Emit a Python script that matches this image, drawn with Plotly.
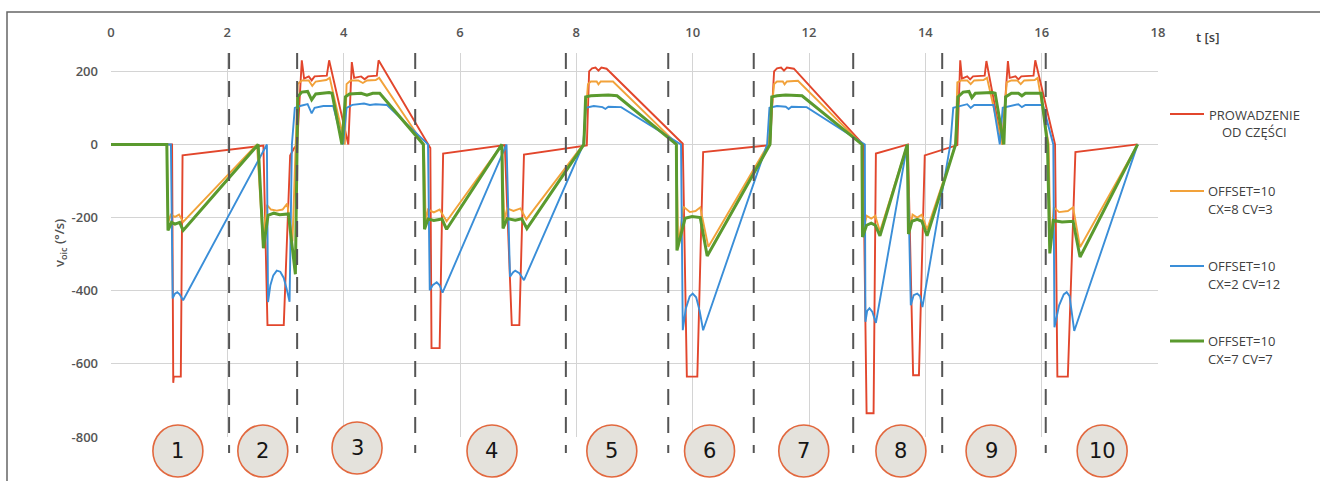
import plotly.graph_objects as go

# ---------------- data (time in s, angular velocity in deg/s) ----------------
red_t = [0, 1.05, 1.07, 1.08, 1.20, 1.23, 2.62,
         2.69, 2.97, 3.08, 3.15, 3.20,
         3.28, 3.32, 3.40, 3.45, 3.50, 3.71, 3.75, 4.08, 4.14, 4.18, 4.30, 4.36, 4.42, 4.57, 4.60, 5.49,
         5.51, 5.65, 5.71, 6.77, 6.89, 7.02, 7.10, 8.18,
         8.22, 8.27, 8.33, 8.38, 8.43, 8.52, 9.83,
         9.90, 10.08, 10.18, 11.33,
         11.40, 11.45, 11.52, 11.57, 11.62, 11.74, 12.93,
         12.99, 13.11, 13.15, 13.70, 13.79, 13.89, 13.99, 14.55,
         14.60, 14.63, 14.72, 14.77, 14.82, 15.02, 15.05, 15.32, 15.42, 15.45, 15.55, 15.60, 15.65, 15.86, 15.89, 16.23,
         16.27, 16.45, 16.58, 17.65]
red_v = [0, 0, -652, -635, -635, -30, -3,
         -494, -494, -30, -10, 0,
         230, 180, 186, 175, 186, 188, 230, 0, 225, 182, 186, 178, 186, 188, 230, -10,
         -557, -557, -25, -2, -494, -494, -28, -3,
         200, 208, 210, 202, 210, 207, 2,
         -635, -635, -21, -2,
         200, 208, 210, 202, 210, 207, 0,
         -735, -735, -25, 0, -631, -631, -30, -2,
         230, 180, 186, 178, 186, 188, 228, 0, 228, 182, 186, 178, 186, 188, 230, 0,
         -635, -635, -21, 0]

orange_t = [0, 0.96, 0.98, 1.03, 1.10, 1.17, 1.24, 2.51,
            2.61, 2.68, 2.75, 2.85, 2.95, 3.03, 3.12, 3.21,
            3.28, 3.40, 3.46, 3.52, 3.70, 3.76, 4.02, 4.05, 4.12, 4.25, 4.33, 4.40, 4.55, 4.61, 5.38,
            5.41, 5.45, 5.55, 5.65, 5.77, 6.72, 6.76, 6.81, 6.92, 7.04, 7.14, 8.12,
            8.20, 8.25, 8.35, 8.38, 8.42, 8.63, 9.72,
            9.75, 9.84, 9.95, 10.05, 10.13, 10.27, 11.30,
            11.40, 11.45, 11.55, 11.58, 11.62, 11.81, 12.91,
            12.93, 12.99, 13.07, 13.14, 13.22, 13.69, 13.73, 13.78, 13.86, 13.94, 14.03, 14.52,
            14.55, 14.62, 14.72, 14.78, 14.84, 15.00, 15.06, 15.32, 15.40, 15.48, 15.58, 15.64, 15.70, 15.88, 15.93, 16.12,
            16.15, 16.21, 16.30, 16.45, 16.54, 16.66, 17.65]
orange_v = [0, 0, -214, -192, -198, -192, -212, 0,
            -262, -165, -178, -181, -178, -162, -265, 165,
            175, 175, 160, 172, 176, 182, 0, 165, 175, 175, 168, 175, 176, 182, 0,
            -212, -178, -186, -178, -210, 0, -208, -175, -182, -175, -205, 0,
            165, 172, 172, 164, 172, 172, 3,
            -281, -170, -185, -182, -172, -280, 0,
            165, 172, 172, 164, 172, 174, 0,
            -240, -195, -203, -195, -238, 0, -238, -192, -200, -192, -233, 0,
            170, 175, 175, 165, 175, 176, 182, 0, 170, 175, 175, 165, 175, 176, 182, 0,
            -275, -172, -185, -182, -172, -281, 0]

blue_t = [0, 1.03, 1.06, 1.10, 1.14, 1.18, 1.24, 2.68,
          2.70, 2.74, 2.79, 2.85, 2.91, 2.97, 3.02, 3.07, 3.11, 3.16,
          3.25, 3.38, 3.45, 3.50, 3.65, 3.82, 3.99, 4.05, 4.15, 4.35, 4.45, 4.55, 4.74, 5.45,
          5.48, 5.53, 5.60, 5.65, 5.70, 6.80, 6.86, 6.91, 6.95, 7.02, 7.10, 8.12,
          8.16, 8.30, 8.45, 8.50, 8.55, 8.77, 9.80,
          9.83, 9.88, 9.95, 10.00, 10.06, 10.12, 10.18, 11.28,
          11.32, 11.45, 11.60, 11.65, 11.70, 11.96, 12.96,
          12.97, 13.00, 13.04, 13.09, 13.15, 13.69, 13.75, 13.80, 13.86, 13.91, 13.95, 14.43,
          14.48, 14.60, 14.72, 14.78, 14.84, 15.17, 15.28, 15.33, 15.45, 15.60, 15.66, 15.72, 16.02, 16.20,
          16.22, 16.30, 16.38, 16.43, 16.48, 16.56, 17.65]
blue_v = [0, 0, -421, -408, -404, -410, -426, 0,
          -431, -385, -358, -345, -348, -365, -395, -430, 0, 100,
          105, 110, 85, 100, 105, 105, 0, 100, 108, 112, 108, 110, 108, 0,
          -399, -385, -377, -385, -405, 0, -362, -350, -345, -352, -371, 0,
          100, 105, 102, 97, 103, 102, 0,
          -508, -450, -415, -408, -418, -455, -508, 0,
          100, 105, 103, 97, 103, 102, 0,
          -485, -455, -448, -458, -488, 0, -440, -412, -408, -415, -445, 0,
          100, 105, 110, 100, 108, 108, 0, 100, 105, 110, 102, 108, 108, 0,
          -500, -440, -410, -404, -415, -510, 0]

green_t = [0, 0.96, 0.98, 1.04, 1.10, 1.18, 1.24, 2.53,
           2.62, 2.70, 2.80, 2.90, 3.05, 3.13, 3.17, 3.21,
           3.28, 3.38, 3.45, 3.52, 3.75, 3.80, 3.97, 4.03, 4.10, 4.30, 4.40, 4.50, 4.62, 5.37,
           5.39, 5.45, 5.55, 5.69, 5.77, 6.72, 6.74, 6.81, 6.95, 7.06, 7.15, 8.13,
           8.16, 8.25, 8.40, 8.55, 8.70, 9.72,
           9.73, 9.87, 9.99, 10.13, 10.25, 11.33,
           11.36, 11.45, 11.60, 11.75, 11.88, 12.91,
           12.92, 12.99, 13.07, 13.14, 13.22, 13.69, 13.71, 13.77, 13.86, 13.94, 14.03, 14.52,
           14.56, 14.65, 14.75, 14.80, 14.86, 15.15, 15.20, 15.35, 15.38, 15.48, 15.60, 15.66, 15.72, 15.99, 16.10,
           16.14, 16.20, 16.35, 16.54, 16.66, 17.65]
green_v = [0, 0, -235, -213, -218, -213, -235, 0,
           -284, -194, -188, -192, -190, -290, -355, 130,
           143, 145, 122, 138, 142, 140, 0, 130, 138, 140, 135, 140, 140, 0,
           -232, -204, -208, -204, -232, 0, -230, -203, -207, -203, -230, 0,
           130, 133, 135, 135, 133, 0,
           -290, -202, -197, -200, -305, 0,
           130, 133, 135, 135, 133, 0,
           -253, -221, -215, -221, -250, 0, -245, -210, -205, -210, -250, 0,
           130, 143, 145, 128, 140, 142, 140, 0, 130, 140, 140, 133, 140, 140, 0,
           -298, -208, -212, -210, -308, 0]

x_ticks = [0, 2, 4, 6, 8, 10, 12, 14, 16, 18]
y_ticks = [200, 0, -200, -400, -600, -800]
phase_bounds_t = [2.03, 3.20, 5.23, 7.82, 9.58, 11.05, 12.76, 14.29, 16.07]
phase_labels = ["1", "2", "3", "4", "5", "6", "7", "8", "9", "10"]
phase_label_t = [1.15, 2.61, 4.23, 6.55, 8.61, 10.29, 11.91, 13.58, 15.13, 17.04]

series_names = ["PROWADZENIE<br>OD CZĘŚCI", "OFFSET=10<br>CX=8 CV=3",
                "OFFSET=10<br>CX=2 CV=12", "OFFSET=10<br>CX=7 CV=7"]
legend_lines = [["PROWADZENIE", "OD CZĘŚCI"], ["OFFSET=10", "CX=8 CV=3"],
                ["OFFSET=10", "CX=2 CV=12"], ["OFFSET=10", "CX=7 CV=7"]]

# ---------------- layout geometry ----------------
W, H = 1320, 481
ML, MR, MT, MB = 111, 162, 53, 44
PW, PH = W - ML - MR, H - MT - MB


def px_x(px):
    return (px - ML) / PW


def px_y(py):
    return (H - MB - py) / PH


colors = ["#e2462c", "#f2a23a", "#3a8ed8", "#5a9a2e"]
widths = [1.9, 1.9, 1.9, 3.0]
xs = [red_t, orange_t, blue_t, green_t]
ys = [red_v, orange_v, blue_v, green_v]

fig = go.Figure()
for name, t, v, c, w in zip(series_names, xs, ys, colors, widths):
    fig.add_trace(go.Scatter(x=t, y=v, mode="lines", name=name,
                             line=dict(color=c, width=w), showlegend=False))

shapes = []
# phase separators
for tb in phase_bounds_t:
    shapes.append(dict(type="line", xref="x", yref="paper", x0=tb, x1=tb,
                       y0=1.0, y1=px_y(453), layer="above",
                       line=dict(color="#555555", width=2, dash="16px,12px")))
# phase circles
annotations = []
for lab, tc in zip(phase_labels, phase_label_t):
    cy = px_y(448 if lab == "3" else 451)
    shapes.append(dict(type="circle", xref="x", yref="paper",
                       xsizemode="pixel", ysizemode="pixel",
                       xanchor=tc, yanchor=cy, x0=-25, x1=25, y0=-26, y1=26,
                       fillcolor="#e4e2dc", line=dict(color="#e2683e", width=1.6),
                       layer="above"))
    annotations.append(dict(x=tc, y=cy, xref="x", yref="paper", text=lab,
                            showarrow=False, xanchor="center", yanchor="middle",
                            font=dict(family="DejaVu Sans", size=21, color="#151515")))

# outer frame
shapes.append(dict(type="rect", xref="paper", yref="paper",
                   x0=px_x(7), x1=px_x(1335), y0=px_y(500), y1=px_y(12),
                   line=dict(color="#666666", width=1.5), layer="below"))

# custom legend
legend_y = [114, 191, 266, 341]
for i, (c, w, ly) in enumerate(zip(colors, widths, legend_y)):
    shapes.append(dict(type="line", xref="paper", yref="paper",
                       x0=px_x(1170), x1=px_x(1204), y0=px_y(ly), y1=px_y(ly),
                       line=dict(color=c, width=w)))
    l1, l2 = legend_lines[i]
    if i == 0:
        for txt, yy in ((l1, 115), (l2, 132)):
            annotations.append(dict(x=px_x(1254), y=px_y(yy), xref="paper", yref="paper",
                                    text=txt, showarrow=False, xanchor="center", yanchor="middle",
                                    font=dict(family="Open Sans", size=13, color="#404040")))
    else:
        for txt, yy in ((l1, ly), (l2, ly + 18)):
            annotations.append(dict(x=px_x(1206), y=px_y(yy), xref="paper", yref="paper",
                                    text=txt, showarrow=False, xanchor="left", yanchor="middle",
                                    font=dict(family="Open Sans", size=13, color="#404040")))

# axis titles
annotations.append(dict(x=px_x(1207), y=px_y(37), xref="paper", yref="paper", text="t [s]",
                        showarrow=False, xanchor="center", yanchor="middle",
                        font=dict(family="Open Sans", size=13, color="#404040", weight=600)))
annotations.append(dict(x=px_x(60), y=px_y(243), xref="paper", yref="paper",
                        text="v<sub>oic</sub> (°/s)", textangle=-90,
                        showarrow=False, xanchor="center", yanchor="middle",
                        font=dict(family="Open Sans", size=13, color="#505050", weight=600)))

tickfont = dict(family="Open Sans", size=13, color="#555555", weight=600)
fig.update_layout(
    width=W, height=H, margin=dict(l=ML, r=MR, t=MT, b=MB),
    paper_bgcolor="white", plot_bgcolor="white",
    xaxis=dict(range=[0, 18], side="top", tickmode="array", tickvals=x_ticks,
               ticktext=[str(v) for v in x_ticks], showgrid=True, gridcolor="#d4d4d4",
               gridwidth=1, zeroline=False, showline=False, ticks="",
               tickfont=tickfont, ticklabelstandoff=12, fixedrange=True),
    yaxis=dict(range=[-800, 250], tickmode="array", tickvals=y_ticks,
               ticktext=[str(v) for v in y_ticks], showgrid=True, gridcolor="#d4d4d4",
               gridwidth=1, zeroline=False, showline=False, ticks="",
               tickfont=tickfont, ticklabelstandoff=12, fixedrange=True),
    shapes=shapes, annotations=annotations, showlegend=False,
)

fig.write_html("out.html", config={"displayModeBar": False},
               post_script="document.body.style.margin='0';document.body.style.overflow='hidden';")
